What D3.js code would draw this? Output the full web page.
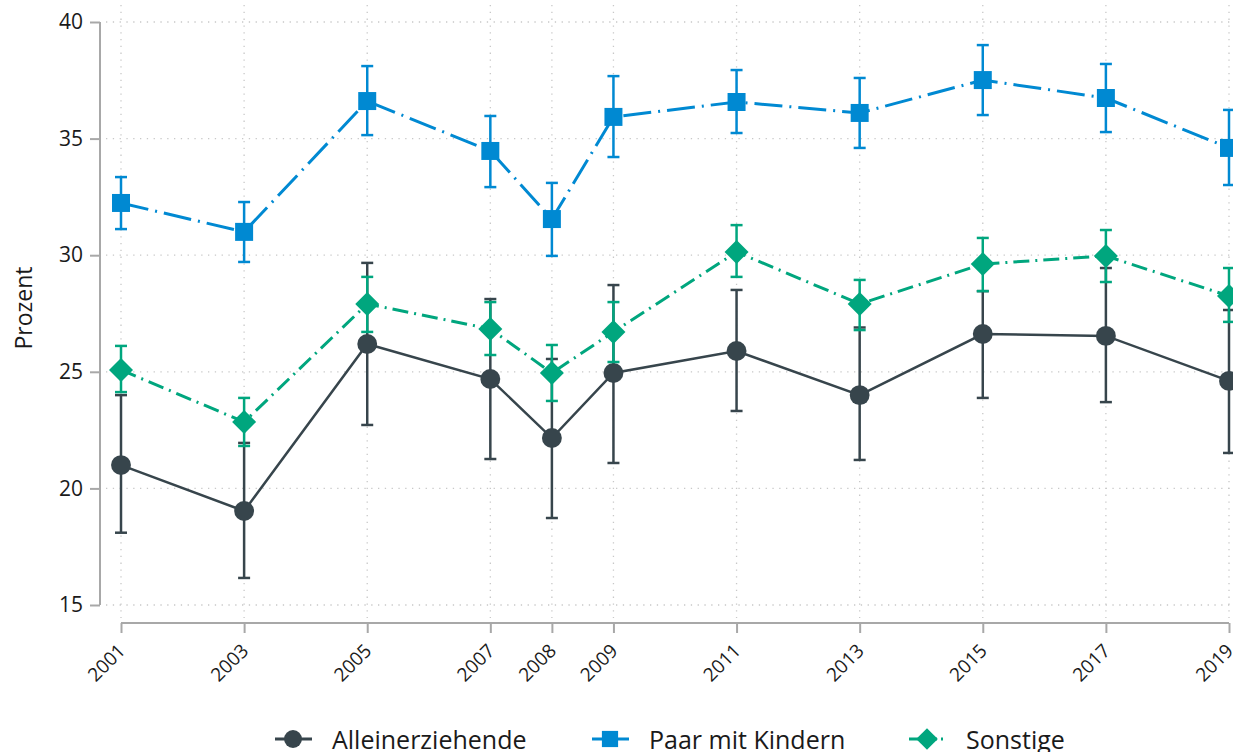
<!DOCTYPE html>
<html><head><meta charset="utf-8">
<script src="https://cdn.jsdelivr.net/npm/d3@7"></script>
<style>
body{margin:0;background:#fff;}
svg{display:block;font-family:"Open Sans",sans-serif;}
</style></head><body>
<svg id="c" width="1233" height="752"></svg>
<script>
const years = [2001,2003,2005,2007,2008,2009,2011,2013,2015,2017,2019];
const yTicks = [15,20,25,30,35,40];
const seriesNames = ["Alleinerziehende","Paar mit Kindern","Sonstige"];
const allein = [21.0,19.03,26.19,24.69,22.16,24.95,25.89,24.0,26.62,26.54,24.61];
const alleinLo = [18.1,16.16,22.72,21.26,18.73,21.09,23.32,21.22,23.88,23.70,21.52];
const alleinHi = [24.0,21.95,29.67,28.12,25.55,28.72,28.51,26.9,28.46,29.45,27.65];
const paar = [32.24,31.0,36.61,34.47,31.55,35.93,36.57,36.10,37.51,36.74,34.60];
const paarLo = [31.12,29.71,35.15,32.92,29.97,34.21,35.24,34.60,36.01,35.28,33.01];
const paarHi = [33.35,32.28,38.11,35.97,33.10,37.68,37.94,37.60,39.01,38.20,36.23];
const sonst = [25.08,22.85,27.91,26.84,24.95,26.71,30.14,27.91,29.62,29.97,28.25];
const sonstLo = [24.13,21.82,26.71,25.72,23.75,25.42,29.07,26.79,28.46,28.85,27.14];
const sonstHi = [26.11,23.88,29.07,27.99,26.15,27.99,31.29,28.94,30.74,31.08,29.45];

const colors = ["#37454c","#0089d2","#00a67e"];
const dashes = [null,"28,7,2,7","16,6,2,6"];

function marker(k, scale){
  const s = scale || 1;
  if(k===0) return d3.symbol().type(d3.symbolCircle).size(310*s*s)();
  if(k===1){ const h=9*s; return `M${-h},${-h}H${h}V${h}H${-h}Z`; }
  const r=12*s; return `M0,${-r}L${r},0L0,${r}L${-r},0Z`;
}

const svg = d3.select("#c");
const x = d3.scaleLinear().domain([2001,2019]).range([121,1229]);
const y = d3.scaleLinear().domain([15,40]).range([605,22]);

// grid
const grid = svg.append("g");
grid.selectAll(".hg").data(yTicks).join("line")
  .attr("x1",106).attr("x2",1233).attr("y1",d=>y(d)).attr("y2",d=>y(d))
  .attr("stroke","#c8c8c8").attr("stroke-width",1.3).attr("stroke-dasharray","1.3,5.5");
grid.selectAll(".vg").data(years).join("line")
  .attr("y1",5).attr("y2",618).attr("x1",d=>x(d)).attr("x2",d=>x(d))
  .attr("stroke","#c8c8c8").attr("stroke-width",1.3).attr("stroke-dasharray","1.3,5.5");

// axes
const yAxis = svg.append("g").attr("transform","translate(100,0)")
  .call(d3.axisLeft(y).tickValues(yTicks).tickSize(10).tickPadding(7));
yAxis.select(".domain").attr("stroke","#a8a8a8").attr("stroke-width",2).attr("d","M0,"+y(40)+"V"+y(15));
yAxis.selectAll(".tick line").attr("stroke","#a8a8a8").attr("stroke-width",2);
yAxis.selectAll(".tick text").attr("font-size",21).attr("fill","#1a1a1a").attr("font-family","'Open Sans',sans-serif");

const xAxis = svg.append("g").attr("transform","translate(0,623)")
  .call(d3.axisBottom(x).tickValues(years).tickFormat(d3.format("d")).tickSize(10));
xAxis.select(".domain").attr("stroke","#a8a8a8").attr("stroke-width",2).attr("d","M"+x(2001)+",0H"+x(2019));
xAxis.selectAll(".tick line").attr("stroke","#a8a8a8").attr("stroke-width",2);
xAxis.selectAll(".tick text").attr("font-size",19).attr("fill","#1a1a1a")
  .attr("font-family","'Open Sans',sans-serif")
  .attr("text-anchor","end").attr("dy",null).attr("y",0)
  .attr("transform","translate(5,29) rotate(-45)");

svg.append("text").attr("transform","translate(32,308) rotate(-90)")
  .attr("text-anchor","middle").attr("font-size",23).attr("fill","#1a1a1a").text("Prozent");

const data = [
  {v:allein, lo:alleinLo, hi:alleinHi},
  {v:paar, lo:paarLo, hi:paarHi},
  {v:sonst, lo:sonstLo, hi:sonstHi}
];

const line = d3.line().x((d,i)=>x(years[i])).y(d=>y(d));
data.forEach((s,k)=>{
  const g = svg.append("g");
  g.append("path").attr("d",line(s.v)).attr("fill","none").attr("stroke",colors[k])
   .attr("stroke-width",k===0?2.5:3).attr("stroke-dasharray",dashes[k]);
  const eb = g.selectAll(".eb").data(years).join("g");
  eb.append("line").attr("x1",d=>x(d)).attr("x2",d=>x(d))
    .attr("y1",(d,i)=>y(s.lo[i])).attr("y2",(d,i)=>y(s.hi[i]))
    .attr("stroke",colors[k]).attr("stroke-width",2.5);
  ["lo","hi"].forEach(key=>{
    eb.append("line").attr("x1",d=>x(d)-6).attr("x2",d=>x(d)+6)
      .attr("y1",(d,i)=>y(s[key][i])).attr("y2",(d,i)=>y(s[key][i]))
      .attr("stroke",colors[k]).attr("stroke-width",2.5);
  });
  g.selectAll(".m").data(s.v).join("path")
    .attr("d",marker(k))
    .attr("transform",(d,i)=>`translate(${x(years[i])},${y(d)})`)
    .attr("fill",colors[k]);
});

// legend
const legX = [275,592,909];
const leg = svg.append("g");
seriesNames.forEach((n,k)=>{
  const g = leg.append("g").attr("transform",`translate(${legX[k]},739)`);
  g.append("line").attr("x1",0).attr("x2",37).attr("y1",0).attr("y2",0)
   .attr("stroke",colors[k]).attr("stroke-width",3)
   .attr("stroke-dasharray",k===2?"28,4,2,4":null);
  g.append("path").attr("d",marker(k,0.9)).attr("transform","translate(18,0)").attr("fill",colors[k]);
  g.append("text").attr("x",57).attr("y",0).attr("dy","0.4em").attr("font-size",25).attr("fill","#1a1a1a").text(n);
});
</script>
</body></html>
